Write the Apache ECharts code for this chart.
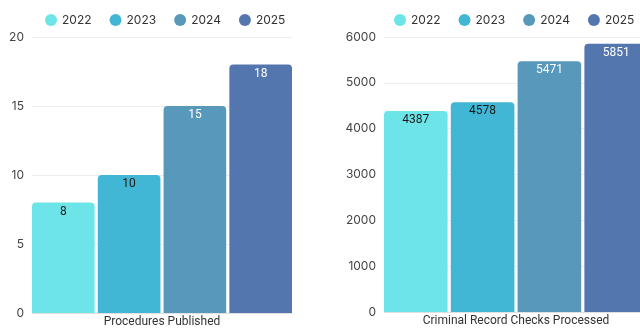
<!DOCTYPE html>
<html>
<head>
<meta charset="utf-8">
<script src="https://cdn.jsdelivr.net/npm/echarts@6/dist/echarts.min.js"></script>
<style>
  html, body { margin: 0; padding: 0; background: #fff; }
  #chart { width: 640px; height: 329px; }
</style>
</head>
<body>
<div id="chart"></div>
<script>
// Yearly figures, one panel per metric
const years = ['2022', '2023', '2024', '2025'];
const yearColors = ['#6de5e8', '#41b7d5', '#5898ba', '#5476ae'];
const labelColors = ['#1a1a1a', '#1a1a1a', '#ffffff', '#ffffff'];

const leftCategory = ['Procedures Published'];
const proceduresPublished = [8, 10, 15, 18];
const leftTicks = { min: 0, max: 20, interval: 5 };

const rightCategory = ['Criminal Record Checks Processed'];
const checksProcessed = [4387, 4578, 5471, 5851];
const rightTicks = { min: 0, max: 6000, interval: 1000 };

const tickFont = 'Inter, "Noto Sans", sans-serif';
const textFont = 'Roboto, "Noto Sans", sans-serif';

function makeSeries(values, axisIndex) {
  return years.map((yr, i) => ({
    name: yr,
    type: 'bar',
    xAxisIndex: axisIndex,
    yAxisIndex: axisIndex,
    data: [values[i]],
    barGap: '5%',
    barCategoryGap: '0%',
    itemStyle: { color: yearColors[i], borderRadius: [4, 4, 0, 0] },
    label: {
      show: true,
      position: 'insideTop',
      distance: 3,
      color: labelColors[i],
      fontSize: 12,
      fontFamily: textFont
    }
  }));
}

function makeLegend(left) {
  return {
    data: years,
    top: 9,
    left: left,
    width: 300,
    icon: 'circle',
    itemWidth: 12,
    itemHeight: 12,
    itemGap: 18,
    textStyle: { fontSize: 12, color: '#333', fontFamily: tickFont }
  };
}

function makeY(ticks, index) {
  return {
    type: 'value',
    gridIndex: index,
    min: ticks.min,
    max: ticks.max,
    interval: ticks.interval,
    axisLine: { show: false },
    axisTick: { show: false },
    axisLabel: {
      color: '#444',
      fontSize: 12,
      margin: 8,
      fontFamily: tickFont,
      formatter: (v) => String(v)
    },
    splitLine: { lineStyle: { color: '#ececec' } }
  };
}

function makeX(cats, index) {
  return {
    type: 'category',
    gridIndex: index,
    data: cats,
    axisLine: { lineStyle: { color: '#e0e0e0' } },
    axisTick: { show: false },
    axisLabel: { color: '#333', fontSize: 12, margin: 3, fontFamily: textFont }
  };
}

const chart = echarts.init(document.getElementById('chart'));
chart.setOption({
  animation: false,
  legend: [makeLegend(40), makeLegend(389)],
  grid: [
    { left: 32, width: 260, top: 37, bottom: 16, outerBoundsMode: 'none' },
    { left: 384, width: 264, top: 37, bottom: 17, outerBoundsMode: 'none' }
  ],
  xAxis: [makeX(leftCategory, 0), makeX(rightCategory, 1)],
  yAxis: [makeY(leftTicks, 0), makeY(rightTicks, 1)],
  series: [
    ...makeSeries(proceduresPublished, 0),
    ...makeSeries(checksProcessed, 1)
  ]
});
</script>
</body>
</html>
